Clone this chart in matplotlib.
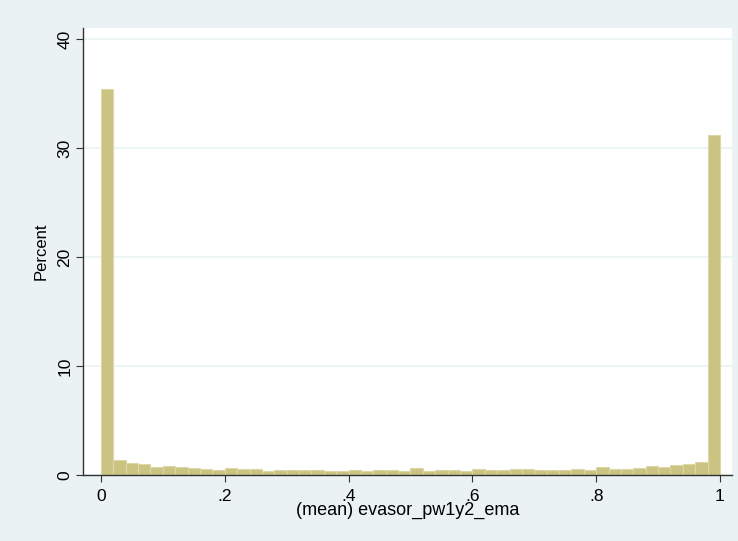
# Histogram of evasor_pw1y2_ema (Stata s2color look)
import numpy as np
import matplotlib.pyplot as plt

plt.rcParams['font.family'] = ['Liberation Sans', 'DejaVu Sans']

# bin edges: 50 bins of width 0.02 from 0 to 1
bin_edges = np.linspace(0, 1, 51)

# percent in each bin
percent = [35.4, 1.41, 1.10, 0.98, 0.73, 0.80, 0.73, 0.67, 0.58, 0.49,
           0.67, 0.58, 0.55, 0.40, 0.49, 0.49, 0.49, 0.49, 0.37, 0.40,
           0.49, 0.37, 0.46, 0.46, 0.37, 0.64, 0.37, 0.49, 0.49, 0.37,
           0.58, 0.49, 0.49, 0.58, 0.58, 0.49, 0.46, 0.49, 0.58, 0.49,
           0.70, 0.58, 0.58, 0.67, 0.83, 0.70, 0.92, 0.98, 1.19, 31.2]

x_ticks = [0, 0.2, 0.4, 0.6, 0.8, 1]
x_labels = ['0', '.2', '.4', '.6', '.8', '1']
y_ticks = [0, 10, 20, 30, 40]

bg = '#eaf2f3'
fig = plt.figure(figsize=(7.38, 5.41), dpi=100, facecolor=bg)
ax = fig.add_axes([83 / 738, 66 / 541, 649 / 738, 447 / 541])
ax.set_facecolor('white')

ax.bar(bin_edges[:-1], percent, width=np.diff(bin_edges), align='edge',
       color='#cbc382', edgecolor='#ddd8a8', linewidth=0.8, zorder=2)

ax.set_xlim(-0.029, 1.0194)
ax.set_ylim(0, 41)

ax.set_xticks(x_ticks)
ax.set_xticklabels(x_labels)
ax.set_yticks(y_ticks)
ax.set_yticklabels([str(t) for t in y_ticks], rotation=90, va='center')
ax.tick_params(direction='out', length=5, width=0.8, colors='#333333',
               labelcolor='black', labelsize=12.5)
ax.tick_params(axis='x', pad=4.8)
ax.tick_params(axis='y', pad=2.8)

ax.grid(axis='y', color=bg, linewidth=1.2, zorder=0)
ax.set_axisbelow(True)

for side in ['top', 'right']:
    ax.spines[side].set_visible(False)
for side in ['left', 'bottom']:
    ax.spines[side].set_color('#333333')
    ax.spines[side].set_linewidth(1.0)

ax.set_xlabel('(mean) evasor_pw1y2_ema', fontsize=13, labelpad=-1)
ax.set_ylabel('Percent', fontsize=12, labelpad=6)

fig.savefig('out.png', dpi=100, facecolor=bg)
